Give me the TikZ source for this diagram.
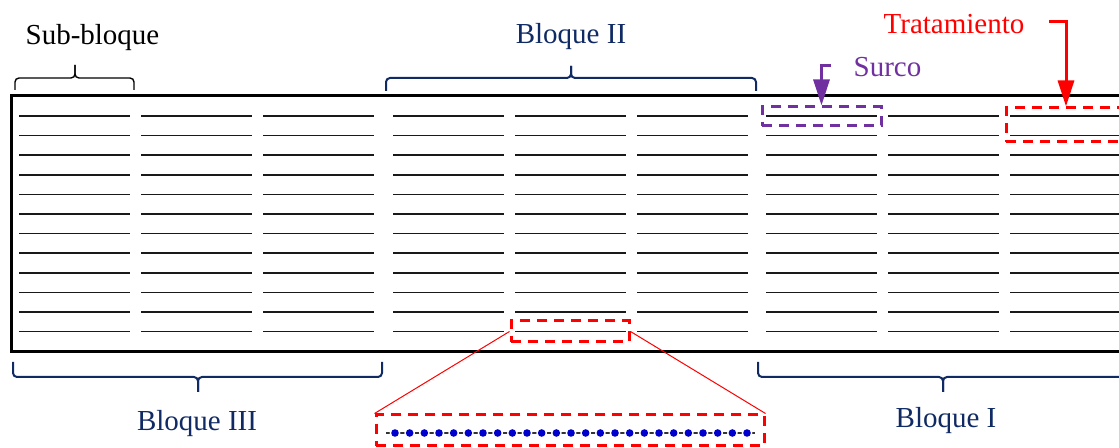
\documentclass[tikz,border=0pt]{standalone}
\usepackage{fontspec}
\setmainfont{Liberation Serif}
\usetikzlibrary{arrows.meta,fit}
\definecolor{navy}{RGB}{16,42,100}
\definecolor{surcopurple}{RGB}{112,48,160}
\definecolor{dotblue}{RGB}{0,0,204}
\begin{document}
\begin{tikzpicture}[x=0.5pt,y=-0.5pt,
  rowline/.style={line width=0.8pt, black!90},
  frame/.style={line width=1.5pt, black},
  bracebl/.style={navy, line width=1pt, rounded corners=2pt},
  bracebk/.style={black, line width=0.7pt, rounded corners=2pt},
  lbl/.style={font=\fontsize{14.5pt}{17pt}\selectfont, inner sep=0pt, anchor=base},
  dashbox/.style={dash pattern=on 5pt off 3.5pt, line width=1.5pt, inner sep=0pt},
  pointer/.style={line width=1.5pt, -{Triangle[length=13pt,width=8pt]}},
  zoomline/.style={red, line width=0.5pt},
]
\useasboundingbox (0,0) rectangle (1119,448);
\clip (0,0) rectangle (1119,448);

% rows of furrows
\foreach \bx in {19,393,766}{
  \foreach \cx in {0,122,244}{
    \foreach \k in {0,...,11}{
      \draw[rowline] (\bx+\cx,116+19.6*\k) -- ++(111,0);
    }
  }
}

% outer frame
\draw[frame] (11,96) rectangle (1130,352);

% braces
\draw[bracebk] (15,90) -- (15,78) -- (75,78) -- (75,65);
\draw[bracebk] (134,90) -- (134,78) -- (75,78) -- (75,65);
\draw[bracebl] (386,91) -- (386,78) -- (571,78) -- (571,66);
\draw[bracebl] (756,91) -- (756,78) -- (571,78) -- (571,66);
\draw[bracebl] (13,362) -- (13,377) -- (198,377) -- (198,392);
\draw[bracebl] (382,362) -- (382,377) -- (198,377) -- (198,392);
\draw[bracebl] (758,362) -- (758,377) -- (943,377) -- (943,392);
\draw[bracebl] (1128,362) -- (1128,377) -- (943,377) -- (943,392);

% labels
\node[lbl] (subbloque) at (92.5,45) {Sub-bloque};
\node[lbl, text=navy] (bloqueII) at (571,44) {Bloque II};
\node[lbl, text=navy] (bloqueIII) at (197,430) {Bloque III};
\node[lbl, text=navy] (bloqueI) at (946,428) {Bloque I};
\node[lbl, text=red] (tratamiento) at (954,34) {Tratamiento};
\node[lbl, text=surcopurple] (surco) at (887.5,77) {Surco};

% dashed boxes
\coordinate (s1) at (762,107); \coordinate (s2) at (881,126);
\node[dashbox, draw=surcopurple, fit=(s1)(s2)] (surcobox) {};
\coordinate (t1) at (1006,108); \coordinate (t2) at (1126,142);
\node[dashbox, draw=red, fit=(t1)(t2)] (tratbox) {};
\coordinate (z1) at (511,321); \coordinate (z2) at (629,342);
\node[dashbox, draw=red, fit=(z1)(z2)] (zoomsmall) {};
\coordinate (b1) at (376,415); \coordinate (b2) at (764,446);
\node[dashbox, draw=red, fit=(b1)(b2)] (zoombig) {};

% pointer arrows
\coordinate (surcohook) at (831,66);
\draw[pointer, surcopurple] (surcohook) -| (surcobox.north);
\coordinate (trathook) at (1049,22);
\draw[pointer, red] (trathook) -| (tratbox.north);

% zoom lines
\draw[zoomline] (zoomsmall.west) -- (zoombig.north west);
\draw[zoomline] (zoomsmall.east) -- (zoombig.north east);

% plants in the furrow
\coordinate (pl) at (386,433); \coordinate (pr) at (755,433);
\draw[black!80, line width=0.6pt] (pl) -- (pr);
\foreach \i in {0,...,24}{
  \fill[white] (395+14.667*\i,433) circle (2.7pt);
  \fill[dotblue] (395+14.667*\i,433) circle (1.9pt);
}
\end{tikzpicture}
\end{document}
